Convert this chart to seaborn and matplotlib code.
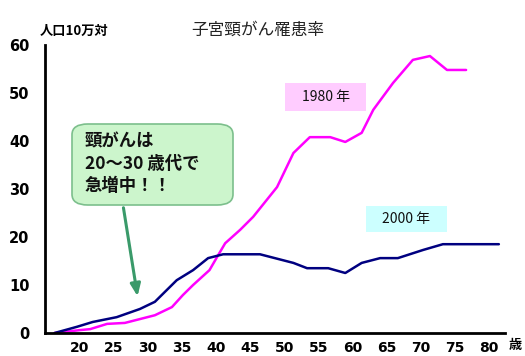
import matplotlib
matplotlib.use("Agg")
import matplotlib.pyplot as plt
import seaborn as sns
import pandas as pd
from matplotlib.patches import FancyBboxPatch, Rectangle

# ---- data ----
age_1980 = [16.3, 20.0, 21.5, 24.0, 26.6, 28.8, 31.0, 33.5, 35.1, 36.6, 39.0, 40.1,
            41.3, 43.5, 45.4, 48.9, 51.3, 53.7, 56.7, 58.9, 61.3, 63.0, 65.9, 68.8,
            71.3, 73.8, 76.6]
rate_1980 = [0.0, 0.6, 0.8, 1.9, 2.1, 2.9, 3.7, 5.4, 7.9, 10.0, 13.1, 15.8,
             18.7, 21.5, 24.2, 30.4, 37.5, 40.8, 40.8, 39.8, 41.7, 46.5, 52.1, 56.9,
             57.7, 54.8, 54.8]
age_2000 = [16.3, 19.6, 21.9, 25.4, 28.8, 31.0, 34.2, 36.6, 38.8, 41.0, 46.4, 51.3,
            53.3, 56.4, 58.9, 61.3, 64.0, 66.6, 70.3, 73.2, 81.4]
rate_2000 = [0.0, 1.3, 2.3, 3.3, 5.0, 6.5, 11.0, 13.1, 15.6, 16.4, 16.4, 14.6,
             13.5, 13.5, 12.5, 14.6, 15.6, 15.6, 17.3, 18.5, 18.5]
x_ticks = [20, 25, 30, 35, 40, 45, 50, 55, 60, 65, 70, 75, 80]
y_ticks = [0, 10, 20, 30, 40, 50, 60]
title = "子宮頸がん罹患率"
y_unit = "人口10万対"
x_unit = "歳"
series_labels = ["1980 年", "2000 年"]
callout = "頸がんは\n20～30 歳代で\n急増中！！"

df = pd.concat([
    pd.DataFrame({"age": age_1980, "rate": rate_1980, "year": "1980"}),
    pd.DataFrame({"age": age_2000, "rate": rate_2000, "year": "2000"}),
])

sns.set_theme(style="white")
plt.rcParams["font.family"] = ["Noto Sans CJK JP", "DejaVu Sans"]

W, H = 525, 356
fig = plt.figure(figsize=(W / 100, H / 100), dpi=100)
ax = fig.add_axes([45 / W, 1 - 333 / H, 460 / W, 288 / H])

sns.lineplot(data=df, x="age", y="rate", hue="year", sort=False,
             palette={"1980": "#ff00ff", "2000": "#000080"},
             linewidth=1.8, legend=False, ax=ax)

ax.set_xlim(14.9, 82.3)
ax.set_ylim(0, 60)
ax.set_xticks(x_ticks)
ax.set_yticks(y_ticks)
ax.set_xticklabels([str(t) for t in x_ticks], fontweight="bold", fontsize=10,
                   family="DejaVu Sans")
ax.set_yticklabels([str(t) for t in y_ticks], fontweight="bold", fontsize=10.5,
                   family="DejaVu Sans")
ax.tick_params(axis="both", direction="in", length=4, width=1.5, colors="black",
               labelcolor="black")
ax.tick_params(axis="x", pad=6)
ax.tick_params(axis="y", pad=11)
ax.set_xlabel("")
ax.set_ylabel("")
for s in ["top", "right"]:
    ax.spines[s].set_visible(False)
for s in ["left", "bottom"]:
    ax.spines[s].set_color("black")
    ax.spines[s].set_linewidth(2)


def fx(px):
    return px / W


def fy(py):
    return 1 - py / H


fig.text(fx(258), fy(30), title, ha="center", va="center", fontsize=12,
         color="#222222")
fig.text(fx(40), fy(31), y_unit, ha="left", va="center", fontsize=9.5,
         fontweight="bold", color="black")
fig.text(fx(509), fy(345), x_unit, ha="left", va="center", fontsize=9.5,
         fontweight="bold", color="black")

# series label boxes
fig.patches.append(Rectangle((fx(285), fy(111)), 81 / W, 28 / H,
                             transform=fig.transFigure, facecolor="#ffccff",
                             edgecolor="none", zorder=3))
fig.text(fx(325.5), fy(97), series_labels[0], ha="center", va="center",
         fontsize=10, color="#111111", zorder=4)
fig.patches.append(Rectangle((fx(366), fy(232)), 81 / W, 26 / H,
                             transform=fig.transFigure, facecolor="#ccffff",
                             edgecolor="none", zorder=3))
fig.text(fx(406.5), fy(219), series_labels[1], ha="center", va="center",
         fontsize=10, color="#111111", zorder=4)

# callout box
fig.patches.append(FancyBboxPatch((fx(72), fy(205)), 161 / W, 81 / H,
                                  boxstyle="round,pad=0,rounding_size=0.03",
                                  transform=fig.transFigure,
                                  facecolor="#ccf5cc", edgecolor="#7cbf8c",
                                  linewidth=1.2, zorder=3))
fig.text(fx(85), fy(164), callout, ha="left", va="center", fontsize=12.5,
         fontweight="bold", color="#111111", linespacing=1.3, zorder=4)
ax.annotate("", xy=(138, H - 299), xycoords="figure pixels",
            xytext=(123, H - 205), textcoords="figure pixels",
            arrowprops=dict(arrowstyle="-|>,head_length=0.6,head_width=0.25",
                            color="#3a9a6a", lw=2.2))

fig.savefig("out.png", dpi=100)
